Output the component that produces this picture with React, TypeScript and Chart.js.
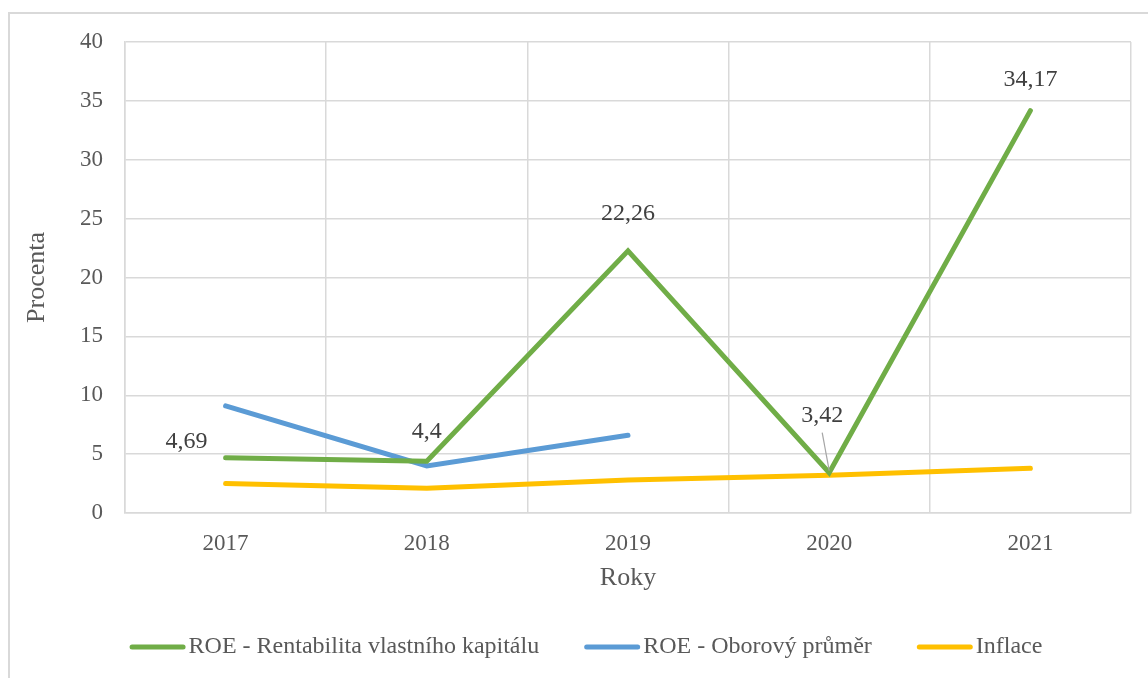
import React, { useEffect, useRef } from "react";
import { Chart, registerables } from "chart.js";

Chart.register(...registerables);

const years = ["2017", "2018", "2019", "2020", "2021"];
const roeCompany = [4.69, 4.4, 22.26, 3.42, 34.17];
const roeIndustry = [9.1, 4.0, 6.6, null, null];
const inflation = [2.5, 2.1, 2.8, 3.2, 3.8];
const roeLabels = ["4,69", "4,4", "22,26", "3,42", "34,17"];

const seriesNames = ["ROE - Rentabilita vlastního kapitálu", "ROE - Oborový průměr", "Inflace"];
const seriesColors = ["#70ad47", "#5b9bd5", "#ffc000"];

const FONT = '"Liberation Serif", "Times New Roman", serif';

// label placement relative to each point (dx, dy) and whether a leader line is drawn
const labelPlacement = [
  { dx: -39, dy: -16, leader: false },
  { dx: 0, dy: -29, leader: false },
  { dx: 0, dy: -37, leader: false },
  { dx: -7, dy: -57, leader: true },
  { dx: 0, dy: -31, leader: false },
];

const dataLabelPlugin = {
  id: "dataLabelPlugin",
  afterDatasetsDraw(chart: any) {
    const ctx = chart.ctx;
    const meta = chart.getDatasetMeta(0);
    ctx.save();
    ctx.font = `24px ${FONT}`;
    ctx.fillStyle = "#404040";
    ctx.textAlign = "center";
    ctx.textBaseline = "middle";
    meta.data.forEach((pt: any, i: number) => {
      const p = labelPlacement[i];
      const x = pt.x + p.dx;
      const y = pt.y + p.dy;
      if (p.leader) {
        ctx.strokeStyle = "#a6a6a6";
        ctx.lineWidth = 1.2;
        ctx.beginPath();
        ctx.moveTo(x, y + 17);
        ctx.lineTo(pt.x, pt.y - 2);
        ctx.stroke();
      }
      ctx.fillText(roeLabels[i], x, y);
    });
    ctx.restore();
  },
};

const legendPlugin = {
  id: "customLegend",
  afterDraw(chart: any) {
    const ctx = chart.ctx;
    ctx.save();
    ctx.font = `24px ${FONT}`;
    const sample = 56;
    const gapText = 3;
    const gapItem = 45;
    const widths = seriesNames.map((n) => ctx.measureText(n).width);
    const total = widths.reduce((a, w) => a + sample + gapText + w, 0) + gapItem * (seriesNames.length - 1);
    let x = (chart.width + 14) / 2 - total / 2;
    const y = 633;
    ctx.textBaseline = "middle";
    ctx.textAlign = "left";
    seriesNames.forEach((n, i) => {
      ctx.strokeStyle = seriesColors[i];
      ctx.lineWidth = 5;
      ctx.lineCap = "round";
      ctx.beginPath();
      ctx.moveTo(x + 2.5, y);
      ctx.lineTo(x + sample - 2.5, y);
      ctx.stroke();
      ctx.fillStyle = "#595959";
      ctx.fillText(n, x + sample + gapText, y);
      x += sample + gapText + widths[i] + gapItem;
    });
    ctx.restore();
  },
};

export default function App() {
  const ref = useRef<HTMLCanvasElement>(null);
  useEffect(() => {
    if (!ref.current) return;
    const gridColor = "#d9d9d9";
    const chart = new Chart(ref.current, {
      type: "line",
      data: {
        labels: years,
        datasets: [roeCompany, roeIndustry, inflation].map((d, i) => ({
          label: seriesNames[i],
          data: d,
          borderColor: seriesColors[i],
          backgroundColor: seriesColors[i],
          borderWidth: 5,
          borderCapStyle: "round",
          borderJoinStyle: "miter",
          pointRadius: 0,
          pointHoverRadius: 0,
          tension: 0,
          spanGaps: false,
        })),
      },
      options: {
        responsive: false,
        animation: false,
        layout: { padding: { top: 28, right: 17, bottom: 75, left: 0 } },
        plugins: {
          legend: { display: false },
          tooltip: { enabled: false },
        },
        scales: {
          x: {
            offset: true,
            grid: { offset: true, color: gridColor, lineWidth: 1.5, drawTicks: false },
            border: { display: true, color: gridColor, width: 1.5 },
            ticks: { color: "#595959", font: { family: FONT, size: 23 }, padding: 17, maxRotation: 0 },
            title: {
              display: true,
              text: "Roky",
              color: "#595959",
              font: { family: FONT, size: 26 },
              padding: { top: 0, bottom: 9.4 },
            },
            afterFit: (s: any) => {
              s.height = 90;
            },
          },
          y: {
            min: 0,
            max: 40,
            ticks: { stepSize: 5, color: "#595959", font: { family: FONT, size: 23 }, padding: 22 },
            grid: { color: gridColor, lineWidth: 1.5, drawTicks: false },
            border: { display: true, color: gridColor, width: 1.5 },
            title: {
              display: true,
              text: "Procenta",
              color: "#595959",
              font: { family: FONT, size: 26 },
              padding: { top: 11.4, bottom: 0 },
            },
            afterFit: (s: any) => {
              s.width = 115;
              s.paddingTop = 10;
              s.paddingBottom = 10;
            },
          },
        },
      },
      plugins: [dataLabelPlugin, legendPlugin],
    } as any);
    return () => chart.destroy();
  }, []);

  return (
    <div
      style={{
        position: "absolute",
        left: 8,
        top: 12,
        width: 1140,
        height: 666,
        borderLeft: "2px solid #d9d9d9",
        borderTop: "2px solid #d9d9d9",
        background: "#fff",
      }}
    >
      <canvas ref={ref} width={1138} height={664} style={{ display: "block" }} />
    </div>
  );
}
